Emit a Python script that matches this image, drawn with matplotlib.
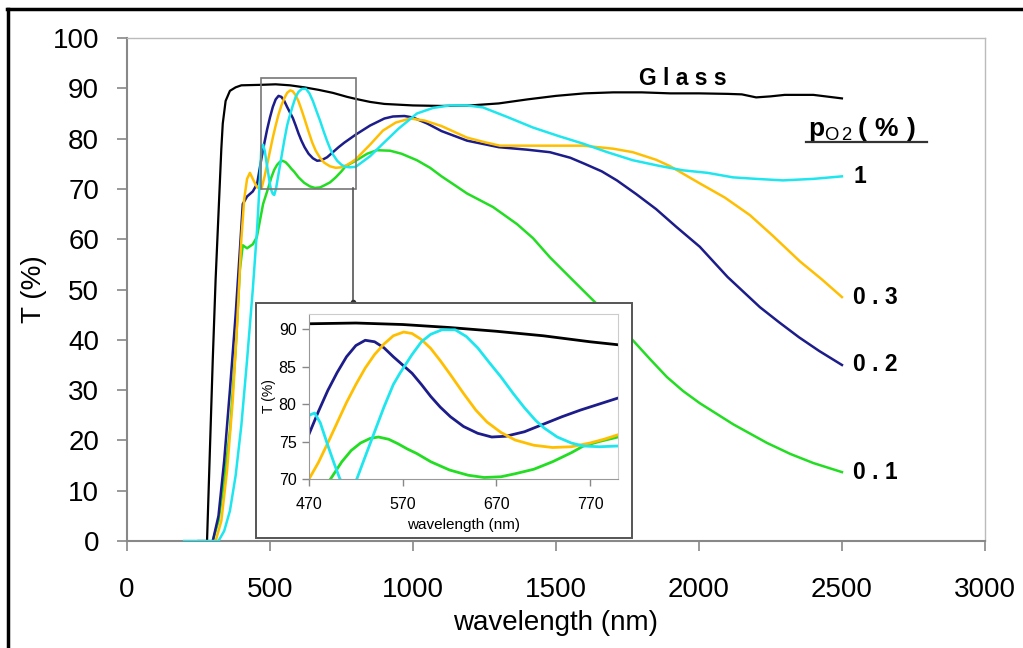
import numpy as np
import matplotlib.pyplot as plt
from matplotlib.lines import Line2D
from matplotlib.patches import Rectangle

plt.rcParams['font.family'] = ['Liberation Sans', 'DejaVu Sans']
plt.rcParams['mathtext.fontset'] = 'custom'
plt.rcParams['mathtext.rm'] = 'Liberation Sans'
plt.rcParams['mathtext.bf'] = 'Liberation Sans:bold'

# === data ===
glass_x = [250, 280, 290, 300, 310, 320, 330, 335, 345, 360, 380, 400, 470, 520, 570, 620,
           670, 720, 770, 800, 850, 900, 1000, 1100, 1200, 1300, 1400, 1500, 1600, 1700,
           1800, 1900, 2000, 2100, 2150, 2200, 2250, 2300, 2400, 2500]
glass_y = [0, 0, 18, 36, 52, 65, 78, 83, 87.5, 89.5, 90.2, 90.6, 90.7, 90.8, 90.6, 90.2,
           89.7, 89.1, 88.3, 87.9, 87.3, 86.9, 86.6, 86.5, 86.6, 87.0, 87.8, 88.5, 89.0, 89.2,
           89.2, 89.0, 89.0, 88.9, 88.8, 88.2, 88.4, 88.7, 88.7, 88.0]

p02_x = [300, 320, 340, 360, 380, 395, 405, 420, 440, 455, 470, 480, 490, 500, 510, 520,
         530, 540, 550, 560, 570, 580, 590, 600, 610, 621, 635, 650, 665, 680, 700, 720,
         740, 760, 780, 800, 850, 900, 930, 970, 1000, 1050, 1100, 1189, 1300, 1400, 1479,
         1550, 1600, 1660, 1713, 1780, 1850, 1920, 2003, 2100, 2213, 2280, 2350, 2420, 2500]
p02_y = [0, 5, 16, 30, 45, 58, 67, 68.5, 69.5, 71, 76, 79, 81.8, 84.2, 86.3, 87.8,
         88.5, 88.3, 87.5, 86.3, 85.2, 84.1, 82.6, 81, 79.6, 78.3, 77, 76.1, 75.6, 75.7, 76.3, 77.3,
         78.3, 79.2, 80, 80.8, 82.6, 84, 84.4, 84.5, 84.2, 83, 81.5, 79.6, 78.3, 77.8, 77.3,
         76.2, 75, 73.5, 71.7, 69, 66, 62.5, 58.5, 52.5, 46.5, 43.5, 40.5, 37.8, 35]

p03_x = [310, 330, 350, 370, 385, 400, 410, 420, 430, 440, 455, 470, 480, 490, 500, 510,
         520, 530, 540, 550, 560, 571, 580, 590, 600, 610, 621, 635, 648, 660, 675, 690,
         710, 730, 750, 770, 785, 800, 850, 895, 940, 990, 1040, 1100, 1189, 1250, 1304,
         1450, 1595, 1700, 1769, 1850, 1900, 2003, 2090, 2178, 2260, 2353, 2430, 2500]
p03_y = [0, 4, 14, 28, 43, 60, 68, 72, 73.2, 72, 70.3, 70, 72.2, 74.8, 77.5, 80.2,
         82.6, 84.8, 86.6, 88, 89.1, 89.6, 89.4, 88.6, 87.4, 85.8, 83.9, 81.4, 79.2, 77.6, 76.2, 75.2,
         74.5, 74.2, 74.3, 74.8, 75.3, 75.9, 78.8, 81.6, 83.2, 84, 83.6, 82.5, 80.2, 79.3, 78.6,
         78.6, 78.6, 78, 77.3, 75.8, 74.5, 71.1, 68.3, 64.8, 60.6, 55.6, 52, 48.5]

p1_x = [200, 320, 340, 360, 380, 400, 420, 440, 455, 465, 470, 476, 482, 490, 497, 503,
        510, 515, 521, 530, 540, 550, 560, 567, 580, 590, 600, 612, 626, 638, 650, 662,
        675, 688, 700, 712, 721, 735, 750, 763, 780, 800, 850, 895, 950, 1014, 1070, 1129,
        1190, 1245, 1330, 1420, 1510, 1595, 1680, 1769, 1860, 1944, 2030, 2119, 2200, 2294,
        2400, 2500]
p1_y = [0, 0, 2, 6, 13, 23, 36, 50, 62, 72, 78.5, 78.8, 77.5, 74.5, 72, 70,
        69, 68.8, 70, 73, 76.3, 79.6, 82.6, 84.1, 86.6, 88.3, 89.3, 89.9, 89.9, 89, 87.5, 85.6,
        83.6, 81.4, 79.5, 77.8, 76.8, 75.6, 74.8, 74.4, 74.3, 74.4, 76.5, 79, 82, 85, 86.1, 86.6,
        86.6, 86.2, 84.3, 82.2, 80.5, 79, 77.3, 75.7, 74.6, 73.7, 73.2, 72.3, 72, 71.7,
        72.0, 72.5]

p01_x = [300, 320, 340, 360, 380, 395, 405, 420, 440, 454, 476, 494, 505, 515, 525, 535,
         544, 555, 565, 575, 585, 600, 620, 640, 657, 675, 690, 710, 730, 750, 763, 780,
         800, 840, 874, 920, 960, 1014, 1060, 1100, 1150, 1189, 1280, 1364, 1420, 1479, 1560,
         1654, 1710, 1769, 1830, 1888, 1945, 2003, 2120, 2238, 2320, 2400, 2500]
p01_y = [0, 4, 12, 22, 38, 54, 58.8, 58.2, 59, 60.4, 67, 70.2, 72.3, 73.8, 74.8, 75.4,
         75.6, 75.3, 74.7, 74, 73.4, 72.3, 71.2, 70.5, 70.2, 70.3, 70.7, 71.3, 72.3, 73.5, 74.4, 75,
         75.6, 77, 77.7, 77.6, 77, 75.7, 74.2, 72.5, 70.6, 69.1, 66.4, 63.0, 60.2, 56.4, 51.8,
         46.5, 43.3, 39.9, 36.1, 32.6, 29.8, 27.4, 23.2, 19.5, 17.3, 15.5, 13.7]

series = [
    (glass_x, glass_y, "black", 1.6),
    (p01_x, p01_y, "#22dd22", 1.8),
    (p02_x, p02_y, "#1c1c8a", 1.8),
    (p03_x, p03_y, "#ffbf00", 1.8),
    (p1_x, p1_y, "#1ee6ee", 1.8),
]
end_labels = ["1", "0.3", "0.2", "0.1"]
end_values = [p1_y[-1], p03_y[-1], p02_y[-1], p01_y[-1]]

fig = plt.figure(figsize=(10.23, 6.48), dpi=100)

# === main plot ===
ax = fig.add_axes([0.1241, 0.1651, 0.8387, 0.7762])
for xs, ys, c, lw in series:
    ax.plot(xs, ys, color=c, lw=lw, zorder=3)

ax.set_xlim(0, 3000)
ax.set_ylim(0, 100)
ax.set_xticks(np.arange(0, 3001, 500))
ax.set_yticks(np.arange(0, 101, 10))
ax.tick_params(direction="out", length=7, width=1.2, color="#888888",
               labelsize=20, pad=13)
ax.tick_params(axis="x", pad=19)
for s in ["left", "bottom"]:
    ax.spines[s].set_color("#888888")
    ax.spines[s].set_linewidth(1.5)
for s in ["top", "right"]:
    ax.spines[s].set_color("#bbbbbb")
    ax.spines[s].set_linewidth(1.0)
ax.set_xlabel("wavelength (nm)", fontsize=20, labelpad=5)
ax.set_ylabel("T (%)", fontsize=20, labelpad=4)

# zoom window
ax.add_patch(Rectangle((470, 70), 330, 22, fill=False, edgecolor="#777777", lw=1.2, zorder=4))

ax.text(1944, 92.0, "G l a s s", fontsize=16.5, fontweight="bold", ha="center", va="center")
ax.text(2381, 82.0, r"$\mathbf{p}_{\mathrm{O\,2}}\,\mathbf{(\ \%\ )}$", fontsize=19,
        ha="left", va="center")
for lab, v in zip(end_labels, end_values):
    ax.text(2540, v, " ".join(lab) if len(lab) > 1 else lab, fontsize=16.5,
            fontweight="bold", ha="left", va="center")

# underline under p_O2 (%)
fig.add_artist(Line2D([806 / 1023, 927 / 1023], [1 - 142 / 648] * 2, color="#333333", lw=1.6))

# connector from window to inset
fig.add_artist(Line2D([353 / 1023] * 2, [1 - 188 / 648, 1 - 302 / 648], color="#555555", lw=1.2))
fig.add_artist(Line2D([353 / 1023], [1 - 302 / 648], marker="o", ms=3, color="#333333"))

# inset frame
fig.add_artist(Rectangle((256 / 1023, 1 - 538 / 648), 376 / 1023, 235 / 648,
                         transform=fig.transFigure, facecolor="white",
                         edgecolor="#555555", lw=1.4, zorder=5))

# === inset ===
axi = fig.add_axes([0.3021, 0.2608, 0.3021, 0.2546], zorder=6)
for xs, ys, c, lw in series:
    axi.plot(xs, ys, color=c, lw=2.0)
axi.set_xlim(470, 800)
axi.set_ylim(70, 92)
axi.set_xticks([470, 570, 670, 770])
axi.set_yticks([70, 75, 80, 85, 90])
axi.tick_params(direction="out", length=5, width=1, color="#888888", labelsize=11.5, pad=4)
axi.tick_params(axis="x", pad=8)
for s in ["left", "bottom"]:
    axi.spines[s].set_color("#999999")
for s in ["top", "right"]:
    axi.spines[s].set_color("#cccccc")
axi.set_xlabel("wavelength (nm)", fontsize=11, labelpad=4)
axi.set_ylabel("T (%)", fontsize=10, labelpad=2)

# outer black border
fig.add_artist(Line2D([7 / 1023, 1.0], [1 - 9 / 648] * 2, color="black", lw=2.5))
fig.add_artist(Line2D([8 / 1023] * 2, [0, 1 - 9 / 648], color="black", lw=2.5))

fig.savefig("out.png", dpi=100)
